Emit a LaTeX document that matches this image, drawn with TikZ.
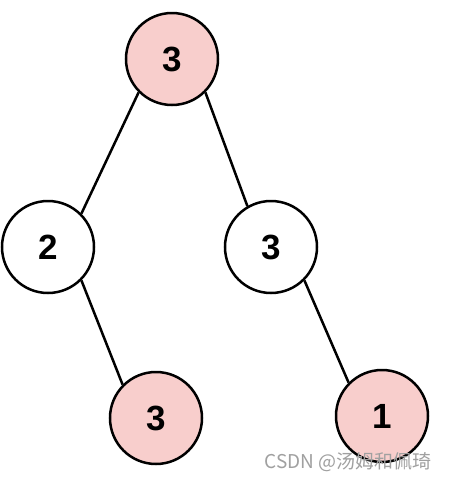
\documentclass[tikz,border=0pt]{standalone}
\usepackage{fontspec}
\setmainfont{Liberation Sans}
\newfontfamily\cjkfont{Noto Sans CJK SC}
\definecolor{pinkfill}{HTML}{F8CECC}
\definecolor{wmgray}{HTML}{A0A0A0}
\begin{document}
\begin{tikzpicture}[x=1pt,y=-1pt,
  treenode/.style={circle,draw=black,line width=2.5pt,minimum size=92pt,inner sep=0pt,
    font=\fontsize{35}{38}\selectfont\bfseries},
  hot/.style={treenode,fill=pinkfill},
  cold/.style={treenode,fill=white},
  edge/.style={draw=black,line width=2.5pt}]
\useasboundingbox (0,0) rectangle (448,480);
\fill[white] (0,0) rectangle (448,480);
\node[hot]  (top) at (172,59)  {3};
\node[cold] (two) at (48,247)  {2};
\node[cold] (rt)  at (271,247) {3};
\node[hot]  (bl)  at (156,418) {3};
\node[hot]  (one) at (382,416) {1};
\draw[edge] (top.225) -- (two.45);
\draw[edge] (top.-45) -- (rt.120);
\draw[edge] (two.-45) -- (bl.135);
\draw[edge] (rt.-45) -- (one.135);
\node[anchor=east,text=wmgray,inner sep=0pt,font=\cjkfont\fontsize{19}{22}\selectfont] (wm) at (432,462) {CSDN @汤姆和佩琦};
\end{tikzpicture}
\end{document}
